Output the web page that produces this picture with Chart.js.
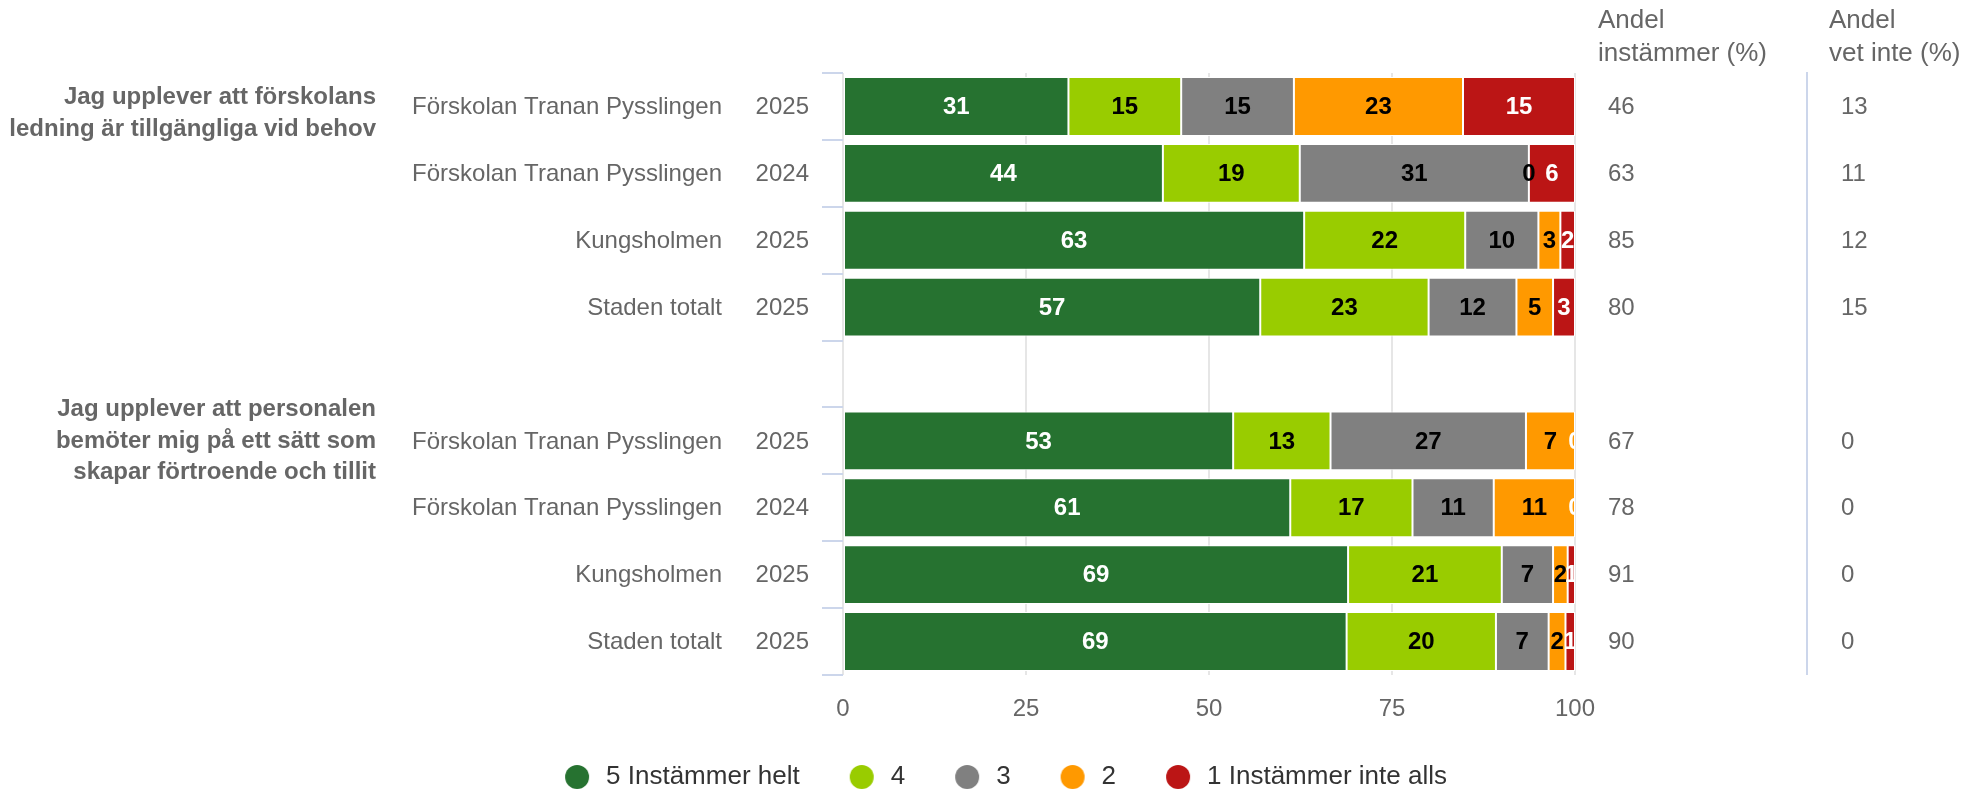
<!DOCTYPE html>
<html>
<head>
<meta charset="utf-8">
<script src="https://cdn.jsdelivr.net/npm/chart.js@4.4.1/dist/chart.umd.min.js"></script>
<style>
  html, body { margin: 0; padding: 0; background: #ffffff; }
  #wrap { width: 1972px; height: 791px; }
</style>
</head>
<body>
<div id="wrap"><canvas id="c" width="1972" height="791"></canvas></div>
<script>
// ---- data ----
const groupLabels = [
  ["Jag upplever att förskolans", "ledning är tillgängliga vid behov"],
  ["Jag upplever att personalen", "bemöter mig på ett sätt som", "skapar förtroende och tillit"]
];
const groupFirstRow = [0, 5];
const units = ["Förskolan Tranan Pysslingen", "Förskolan Tranan Pysslingen", "Kungsholmen", "Staden totalt", "",
               "Förskolan Tranan Pysslingen", "Förskolan Tranan Pysslingen", "Kungsholmen", "Staden totalt"];
const years = ["2025", "2024", "2025", "2025", "", "2025", "2024", "2025", "2025"];
const seriesNames = ["5 Instämmer helt", "4", "3", "2", "1 Instämmer inte alls"];
const s5 = [30.8, 43.7, 63, 57, null, 53.3, 61.1, 69, 68.8];
const s4 = [15.4, 18.7, 22, 23, null, 13.3, 16.7, 21, 20.4];
const s3 = [15.4, 31.3, 10, 12, null, 26.7, 11.1, 7, 7.2];
const s2 = [23.1, 0, 3, 5, null, 6.7, 11.1, 2, 2.3];
const s1 = [15.3, 6.3, 2, 3, null, 0, 0, 1, 1.3];
const andelInstammer = [46, 63, 85, 80, null, 67, 78, 91, 90];
const andelVetInte = [13, 11, 12, 15, null, 0, 0, 0, 0];
const colHeaders = [["Andel", "instämmer (%)"], ["Andel", "vet inte (%)"]];
const xMin = 0, xMax = 100, xStep = 25;

// ---- styles ----
const FONT = "'Liberation Sans', Arial, Helvetica, sans-serif";
const colors = ["#267230", "#99cc00", "#808080", "#ff9900", "#bb1515"];
const labelColors = ["#ffffff", "#000000", "#000000", "#000000", "#ffffff"];
Chart.defaults.font.family = FONT;

const seriesData = [s5, s4, s3, s2, s1];
const rowKeys = units.map((u, i) => u + " " + years[i] + "#" + i);

// legend circle markers
const markers = colors.map(c => {
  const cv = document.createElement('canvas');
  cv.width = 26; cv.height = 26;
  const g = cv.getContext('2d');
  g.fillStyle = c;
  g.beginPath();
  g.arc(13, 13, 12, 0, Math.PI * 2);
  g.fill();
  return cv;
});

const textPlugin = {
  id: 'texts',
  afterDatasetsDraw(chart) {
    const { ctx, chartArea } = chart;
    const yScale = chart.scales.y;
    // data labels
    ctx.save();
    ctx.beginPath();
    ctx.rect(chartArea.left, chartArea.top, chartArea.right - chartArea.left, chartArea.bottom - chartArea.top);
    ctx.clip();
    ctx.font = "bold 24px " + FONT;
    ctx.textAlign = 'center';
    ctx.textBaseline = 'middle';
    chart.data.datasets.forEach((ds, di) => {
      const meta = chart.getDatasetMeta(di);
      meta.data.forEach((bar, i) => {
        const v = ds.data[i];
        if (v === null || v === undefined) return;
        const x = (bar.x + bar.base) / 2;
        ctx.fillStyle = labelColors[di];
        ctx.fillText(String(Math.round(v)), x, bar.y + 1);
      });
    });
    ctx.restore();

    // category labels
    ctx.save();
    ctx.fillStyle = '#666666';
    ctx.font = "24px " + FONT;
    ctx.textBaseline = 'middle';
    units.forEach((u, i) => {
      if (!u) return;
      const y = yScale.getPixelForValue(i) + 1;
      ctx.textAlign = 'right';
      ctx.fillText(u, chartArea.left - 121, y);
      ctx.fillText(years[i], chartArea.left - 34, y);
    });
    // group labels
    ctx.font = "bold 24px " + FONT;
    ctx.textAlign = 'right';
    groupLabels.forEach((lines, g) => {
      const yc = yScale.getPixelForValue(groupFirstRow[g]);
      const lh = lines.length === 2 ? 32.5 : 31.5;
      const y0 = yc - (lines.length - 1) * lh / 2 + (lines.length === 2 ? 7 : 0);
      lines.forEach((t, k) => ctx.fillText(t, 376, y0 + k * lh));
    });
    // right columns
    const c1 = chartArea.right + 33, c2 = chartArea.right + 266;
    ctx.textAlign = 'left';
    ctx.font = "24px " + FONT;
    andelInstammer.forEach((v, i) => {
      if (v === null) return;
      const y = yScale.getPixelForValue(i) + 1;
      ctx.fillText(String(v), c1, y);
      ctx.fillText(String(andelVetInte[i]), c2, y);
    });
    ctx.font = "26px " + FONT;
    const hx = [chartArea.right + 23, chartArea.right + 254];
    colHeaders.forEach((lines, k) => {
      lines.forEach((t, j) => ctx.fillText(t, hx[k], 21 + j * 33));
    });
    // separator line
    ctx.strokeStyle = '#ccd6eb';
    ctx.lineWidth = 2;
    ctx.beginPath();
    ctx.moveTo(chartArea.right + 232, chartArea.top - 1);
    ctx.lineTo(chartArea.right + 232, chartArea.bottom);
    ctx.stroke();
    ctx.restore();
  }
};

const chart = new Chart(document.getElementById('c'), {
  type: 'bar',
  data: {
    labels: rowKeys,
    datasets: seriesData.map((d, i) => ({
      label: seriesNames[i],
      data: d,
      backgroundColor: colors[i],
      borderColor: '#ffffff',
      borderWidth: 1,
      borderSkipped: false,
      categoryPercentage: 1.0,
      barPercentage: 0.88
    }))
  },
  options: {
    indexAxis: 'y',
    responsive: false,
    animation: false,
    devicePixelRatio: 1,
    layout: { padding: { left: 36, right: 0, top: 73, bottom: -9 } },
    plugins: {
      tooltip: { enabled: false },
      legend: {
        position: 'bottom',
        align: 'center',
        labels: {
          usePointStyle: true,
          pointStyleWidth: 32,
          boxHeight: 17,
          padding: 46,
          color: '#333333',
          font: { size: 26, family: FONT },
          generateLabels: (ch) => {
            const items = Chart.defaults.plugins.legend.labels.generateLabels(ch);
            items.forEach((it, i) => { it.pointStyle = markers[i]; });
            return items;
          }
        }
      }
    },
    scales: {
      x: {
        stacked: true,
        min: xMin, max: xMax,
        position: 'bottom',
        ticks: { stepSize: xStep, color: '#666666', font: { size: 24, family: FONT }, padding: 20, maxRotation: 0 },
        grid: { color: '#e6e6e6', lineWidth: 2, drawTicks: false },
        border: { display: false },
        afterFit: s => { s.height = 43; }
      },
      y: {
        stacked: true,
        position: 'left',
        ticks: { display: false },
        grid: { drawOnChartArea: false, color: '#ccd6eb', lineWidth: 2, tickLength: 21, offset: true, drawTicks: true },
        border: { display: false },
        afterFit: s => { s.width = 807; }
      },
      yR: {
        type: 'category',
        labels: rowKeys,
        position: 'right',
        ticks: { display: false },
        grid: { display: false },
        border: { display: false },
        afterFit: s => { s.width = 397; }
      }
    }
  },
  plugins: [textPlugin]
});
</script>
</body>
</html>
